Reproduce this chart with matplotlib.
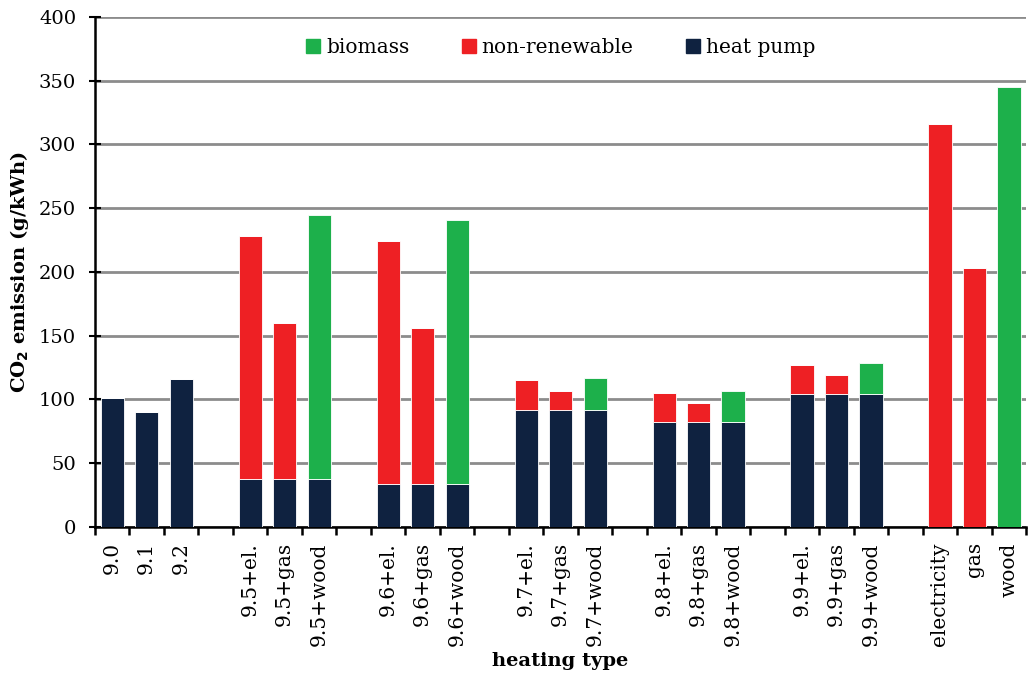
import matplotlib
matplotlib.use("Agg")
import matplotlib.pyplot as plt
from matplotlib.patches import Patch
import numpy as np

plt.rcParams.update({"font.family": "DejaVu Serif", "font.size": 14})
C = dict(bio="#1db04b", nonren="#ee2024", hp="#0f2240", grid="#8c8c8c")

# heating variants, grouped; one empty slot is left between groups
groups = [
    ["9.0", "9.1", "9.2"],
    ["9.5+el.", "9.5+gas", "9.5+wood"],
    ["9.6+el.", "9.6+gas", "9.6+wood"],
    ["9.7+el.", "9.7+gas", "9.7+wood"],
    ["9.8+el.", "9.8+gas", "9.8+wood"],
    ["9.9+el.", "9.9+gas", "9.9+wood"],
    ["electricity", "gas", "wood"],
]
heat_pump = [101, 90, 116,
             38, 38, 38,
             34, 34, 34,
             92, 92, 92,
             82, 82, 82,
             104, 104, 104,
             0, 0, 0]
non_renewable = [0, 0, 0,
                 190, 122, 0,
                 190, 122, 0,
                 23, 15, 0,
                 23, 15, 0,
                 23, 15, 0,
                 316, 203, 0]
biomass = [0, 0, 0,
           0, 0, 207,
           0, 0, 207,
           0, 0, 25,
           0, 0, 25,
           0, 0, 25,
           0, 0, 345]

labels, xpos = [], []
slot = 0
for g in groups:
    for name in g:
        labels.append(name)
        xpos.append(slot)
        slot += 1
    slot += 1
n_slots = slot - 1
xpos = np.array(xpos)
hp = np.array(heat_pump, float)
nr = np.array(non_renewable, float)
bm = np.array(biomass, float)

fig = plt.figure(figsize=(10.29, 6.74), dpi=100)
ax = fig.add_axes([0.0923, 0.2181, 0.905, 0.7567])

w = 0.67
kw = dict(width=w, edgecolor="white", linewidth=0.6, zorder=3)
ax.bar(xpos, hp, color=C["hp"], **kw)
ax.bar(xpos, nr, bottom=hp, color=C["nonren"], **kw)
ax.bar(xpos, bm, bottom=hp + nr, color=C["bio"], **kw)

ax.set_xlim(-0.5, n_slots - 0.5)
ax.set_ylim(0, 400)
ax.set_yticks(np.arange(0, 401, 50))
ax.yaxis.grid(True, color=C["grid"], lw=2.0, zorder=0)
ax.set_axisbelow(True)

ax.set_xticks(xpos)
ax.set_xticklabels(labels, rotation=90, fontsize=14.5)
ax.set_xticks(np.arange(-0.5, n_slots, 1.0), minor=True)
ax.tick_params(axis="x", which="major", length=0, pad=11)
ax.tick_params(axis="x", which="minor", direction="out", length=6,
               width=1.8, color="black")
ax.tick_params(axis="y", direction="inout", length=9, width=1.5, pad=9)

for s in ("top", "right"):
    ax.spines[s].set_visible(False)
ax.spines["left"].set_linewidth(1.8)
ax.spines["bottom"].set_linewidth(1.8)

ax.set_ylabel("CO$_\\mathbf{2}$ emission (g/kWh)", fontweight="bold",
              fontsize=14, labelpad=6)
ax.set_xlabel("heating type", fontweight="bold", fontsize=14)
ax.xaxis.set_label_coords(0.5, -0.245)

handles = [Patch(color=C["bio"], label="biomass"),
           Patch(color=C["nonren"], label="non-renewable"),
           Patch(color=C["hp"], label="heat pump")]
ax.legend(handles=handles, loc="center", bbox_to_anchor=(0.5, 0.94), ncol=3,
          frameon=False, handlelength=0.7, handleheight=0.7, handletextpad=0.3,
          columnspacing=2.6, fontsize=14.5)

fig.savefig("out.png", dpi=100)
